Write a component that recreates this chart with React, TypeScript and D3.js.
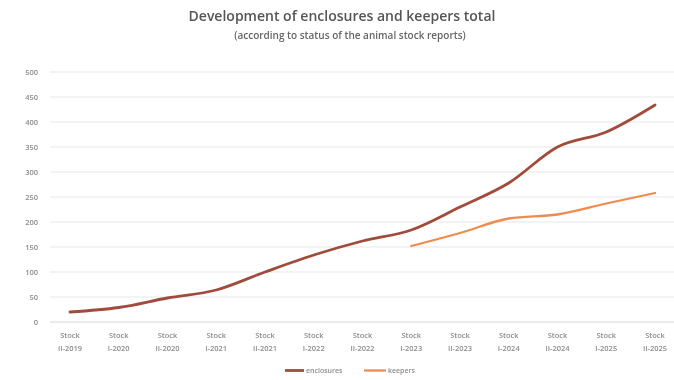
import React from "react";
import * as d3 from "d3";

const categories = [
  "Stock|II-2019", "Stock|I-2020", "Stock|II-2020", "Stock|I-2021", "Stock|II-2021",
  "Stock|I-2022", "Stock|II-2022", "Stock|I-2023", "Stock|II-2023", "Stock|I-2024",
  "Stock|II-2024", "Stock|I-2025", "Stock|II-2025",
];
const enclosures: (number | null)[] = [20, 29, 48, 64, 100, 134, 162, 184, 230, 278, 350, 380, 434];
const keepers: (number | null)[] = [null, null, null, null, null, null, null, 152, 178, 207, 215, 237, 258];
const yTicks = [0, 50, 100, 150, 200, 250, 300, 350, 400, 450, 500];

const W = 674, H = 380;

export default function App() {
  const x = d3.scaleBand<string>().domain(categories).range([45.6, 679.4]);
  const y = d3.scaleLinear().domain([0, 500]).range([322, 72]);
  const cx = (c: string) => (x(c) as number) + x.bandwidth() / 2;
  const line = d3
    .line<[string, number | null]>()
    .defined((d) => d[1] != null)
    .x((d) => cx(d[0]))
    .y((d) => y(d[1] as number))
    .curve(d3.curveMonotoneX);
  const encData = categories.map((c, i) => [c, enclosures[i]] as [string, number | null]);
  const keepData = categories.map((c, i) => [c, keepers[i]] as [string, number | null]);
  const font = "'Open Sans', 'DejaVu Sans', sans-serif";
  const lab = "#8c8c8c";
  return (
    <div style={{ position: "fixed", left: 0, top: 0 }}>
      <svg width={W} height={H} style={{ display: "block", background: "#fff" }} fontFamily={font}>
        <defs>
          <filter id="soft" x="-5%" y="-5%" width="110%" height="110%">
            <feGaussianBlur stdDeviation="0.5" />
          </filter>
        </defs>
        <g filter="url(#soft)">
          <text x={342} y={21} textAnchor="middle" fontSize={14} fontWeight={600} fill="#555">
            Development of enclosures and keepers total
          </text>
          <text x={350} y={39} textAnchor="middle" fontSize={10} fontWeight={600} fill="#666">
            (according to status of the animal stock reports)
          </text>
          {yTicks.map((t) => (
            <g key={t}>
              <line x1={50} x2={674} y1={y(t)} y2={y(t)} stroke={t === 0 ? "#d8d8d8" : "#e8e8e8"} strokeWidth={1.2} />
              <text x={38} y={y(t) + 3} textAnchor="end" fontSize={7.5} fontWeight={600} fill={lab}>
                {t}
              </text>
            </g>
          ))}
          {categories.map((c) => {
            const [a, b] = c.split("|");
            return (
              <g key={c}>
                <text x={cx(c)} y={338} textAnchor="middle" fontSize={7.5} fontWeight={600} fill={lab}>{a}</text>
                <text x={cx(c)} y={351} textAnchor="middle" fontSize={7.5} fontWeight={600} fill={lab}>{b}</text>
              </g>
            );
          })}
          <path d={line(encData) || ""} fill="none" stroke="#a04c3a" strokeWidth={2.8} strokeLinecap="round" />
          <path d={line(keepData) || ""} fill="none" stroke="#ee8c4f" strokeWidth={2.3} strokeLinecap="round" />
          <line x1={285} x2={304} y1={370.5} y2={370.5} stroke="#a04c3a" strokeWidth={2.8} />
          <text x={306} y={373} fontSize={7} fontWeight={600} fill={lab}>enclosures</text>
          <line x1={364} x2={386} y1={370.5} y2={370.5} stroke="#ee8c4f" strokeWidth={2.3} />
          <text x={388} y={373} fontSize={7} fontWeight={600} fill={lab}>keepers</text>
        </g>
      </svg>
    </div>
  );
}
